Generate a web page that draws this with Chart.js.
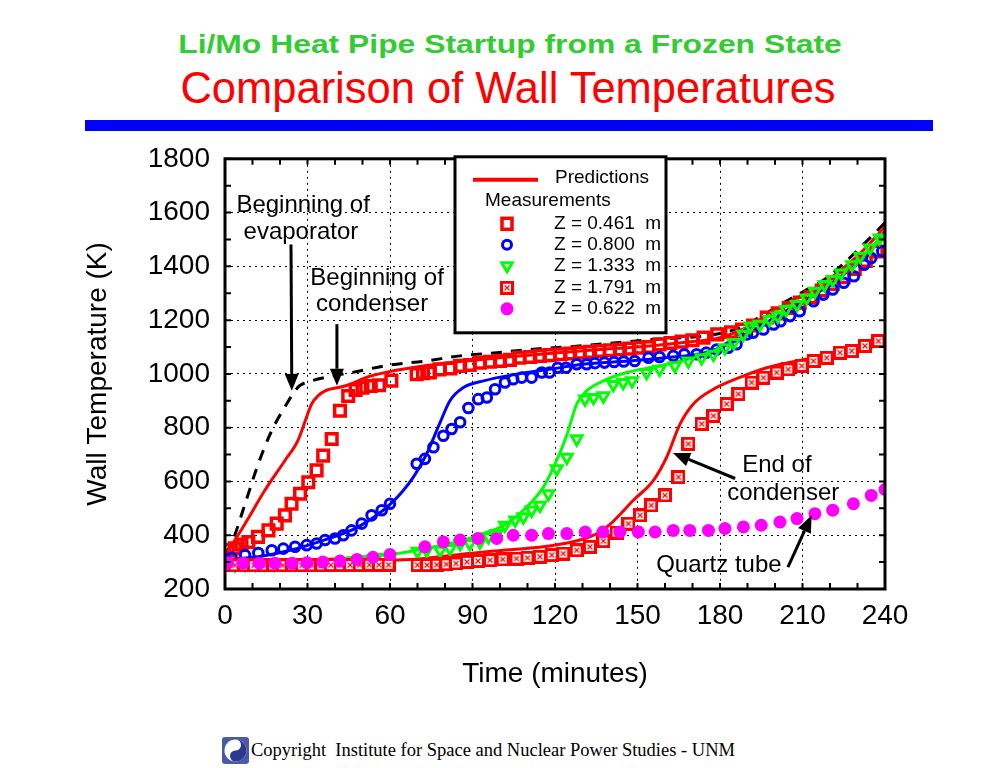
<!DOCTYPE html>
<html>
<head>
<meta charset="utf-8">
<script src="https://cdn.jsdelivr.net/npm/chart.js"></script>
<style>
  body { margin: 0; background: #fff; }
  #page { position: relative; width: 1008px; height: 768px; overflow: hidden; background: #fff; }
  .t1 { position: absolute; left: 0; width: 1020px; top: 31px; text-align: center;
        font: bold 26px/26px "Liberation Sans", Arial, sans-serif; color: #33cc33;
        transform: scaleX(1.225); transform-origin: 510px 0; white-space: nowrap; }
  .t2 { position: absolute; left: 0; width: 1016px; top: 67px; text-align: center;
        font: 43.5px/43.5px "Liberation Sans", Arial, sans-serif; color: #ff0000; white-space: nowrap; }
  .bar { position: absolute; left: 85px; top: 120px; width: 848px; height: 11px; background: #0000ff; }
  #wrap { position: absolute; left: 0; top: 127px; width: 1008px; height: 583px; }
  .foot { position: absolute; left: 222px; top: 737px; display: flex; align-items: center;
          font: 18.5px "Liberation Serif", "Times New Roman", serif; color: #000; white-space: pre; }
  .foot span { margin-left: 2px; }
</style>
</head>
<body>
<div id="page">
  <div class="t1">Li/Mo Heat Pipe Startup from a Frozen State</div>
  <div class="t2">Comparison of Wall Temperatures</div>
  <div class="bar"></div>
  <div id="wrap"><canvas id="c"></canvas></div>
  <div class="foot">
    <svg width="27" height="27" viewBox="0 0 27 27">
      <rect width="27" height="27" rx="3" fill="#4a5aa8"/>
      <circle cx="13.5" cy="13.5" r="11" fill="#fff"/>
      <path d="M13.5 2.5 a11 11 0 0 1 0 22 a5.5 5.5 0 0 1 0 -11 a5.5 5.5 0 0 0 0 -11z" fill="#2b3990"/>
    </svg><span>Copyright  Institute for Space and Nuclear Power Studies - UNM</span>
  </div>
</div>
<script>
// axis ticks
const xTicks = [0, 30, 60, 90, 120, 150, 180, 210, 240];
const yTicks = [200, 400, 600, 800, 1000, 1200, 1400, 1600, 1800];

// measurements: time (min) and wall temperature (K)
const z461T = [1, 3.6, 6, 8.5, 12, 15.8, 18.8, 21.8, 24.2, 27.3, 30.3, 33.3, 35.7, 38.8, 41.8, 44.8, 47.5, 50, 53, 56, 60.5, 69.7, 72, 74.5, 78, 82, 85.5, 89, 92.7, 96.4, 100, 103.6, 107, 111, 114.5, 118, 122, 125.5, 129, 132.7, 136, 140, 143.6, 147, 150.5, 154, 158, 162, 166, 170, 174, 179, 184, 188, 192, 197, 201, 205, 209, 213, 217, 221, 225, 229, 233, 237];
const z461K = [345, 351, 365, 375, 394, 418, 443, 474, 517, 554, 597, 641, 696, 758, 863, 918, 940, 949, 955, 958, 975, 999, 1003, 1005, 1017, 1020, 1030, 1033, 1042, 1045, 1048, 1052, 1060, 1063, 1067, 1070, 1073, 1076, 1079, 1082, 1085, 1088, 1091, 1094, 1097, 1100, 1110, 1115, 1120, 1125, 1135, 1147, 1155, 1165, 1180, 1210, 1225, 1245, 1265, 1285, 1310, 1335, 1360, 1390, 1420, 1455];

const z800T = [0, 2.4, 7.3, 12.1, 17, 21.2, 25.5, 29.7, 33.3, 36.4, 40, 43, 46, 49.7, 53.3, 57, 60, 69.7, 72.7, 75.8, 79.4, 82.4, 85.5, 88.5, 92.1, 95.2, 98.2, 101.8, 104.8, 107.9, 111.5, 115.2, 118, 121, 124, 127.9, 131.5, 134.5, 138, 141.5, 145, 149, 154, 158, 163, 167, 171.5, 175, 178.8, 183, 186, 189.8, 192, 195.8, 199.5, 202, 205.5, 209, 214, 217.6, 221, 225, 228.7, 232.4, 235, 239];
const z800K = [310, 316, 326, 334, 344, 350, 357, 363, 369, 382, 388, 400, 418, 443, 474, 493, 517, 666, 684, 727, 770, 795, 820, 873, 906, 912, 943, 968, 980, 986, 986, 1005, 1005, 1023, 1023, 1036, 1036, 1040, 1042, 1044, 1046, 1048, 1060, 1063, 1067, 1073, 1073, 1079, 1091, 1097, 1110, 1147, 1153, 1165, 1184, 1196, 1215, 1233, 1270, 1295, 1314, 1339, 1363, 1406, 1431, 1456];

const z1333T = [0, 3.6, 7.3, 11, 14.5, 18, 22, 25.5, 29, 33, 36.4, 40, 43.6, 47, 50.5, 54, 57.5, 70, 73.3, 78.2, 81.8, 85.5, 89, 92.7, 95.8, 98.8, 101.8, 105.5, 108.5, 111.5, 114.5, 117.6, 120.6, 124.3, 127.9, 130.9, 134, 137.6, 141.2, 144.8, 148, 153.3, 158, 163.6, 168.5, 173.3, 177.6, 181.8, 185, 188.5, 191, 194.5, 198, 201, 204, 208, 211.5, 214.5, 218, 221, 224, 228, 231, 234.5, 238];
const z1333K = [290, 290, 292, 292, 293, 293, 294, 295, 296, 297, 298, 300, 302, 305, 308, 312, 318, 340, 344, 344, 350, 369, 369, 375, 394, 406, 437, 456, 468, 493, 511, 554, 647, 690, 758, 906, 912, 918, 960, 968, 974, 1005, 1017, 1030, 1048, 1060, 1073, 1097, 1116, 1147, 1178, 1184, 1202, 1215, 1239, 1258, 1282, 1307, 1332, 1351, 1375, 1406, 1437, 1468, 1505];

const z1791T = [0, 3.5, 7, 10.5, 14, 17.5, 21, 24.5, 28, 31.5, 35, 38.5, 42, 45.5, 49, 52.5, 56, 59.5, 70, 73.5, 77, 80.5, 84, 88, 92, 96.4, 101, 106, 110, 114.5, 118.8, 123, 127.9, 132.7, 137.6, 142.4, 146.7, 150.9, 155, 160, 164.9, 168.5, 173.3, 177.6, 182.4, 186.7, 191.5, 195.8, 200.6, 204.8, 209.7, 214, 218.8, 223.6, 227.9, 232.7, 237.6];
const z1791K = [288, 288, 288, 288, 288, 288, 288, 288, 288, 288, 288, 289, 289, 289, 289, 290, 290, 290, 289, 289, 290, 292, 295, 301, 304, 307, 310, 313, 316, 320, 326, 332, 344, 357, 378, 410, 443, 474, 511, 548, 616, 740, 814, 844, 888, 925, 968, 986, 1005, 1017, 1030, 1048, 1060, 1079, 1085, 1104, 1122];

const z622T = [1, 6.5, 12.5, 18.2, 24.4, 29.8, 35.6, 41.8, 48, 53.8, 60, 72.7, 79.4, 85.5, 92, 98.8, 104.8, 111.5, 117.6, 124.3, 131, 137.4, 143.6, 150.3, 156.4, 163, 169, 175.8, 181.8, 188.5, 195, 201.8, 208, 214.5, 221, 228.5, 235, 240];
const z622K = [298, 296, 296, 296, 296, 298, 300, 304, 310, 318, 328, 357, 375, 382, 388, 388, 400, 400, 406, 406, 412, 412, 412, 412, 412, 418, 418, 418, 425, 431, 437, 449, 462, 480, 493, 517, 548, 570];

// predictions
const evapT = [0, 2.4, 7.3, 12.1, 17, 22.4, 25, 27, 31.5, 38, 46, 60, 73, 85.5, 98.8, 111, 124, 137.5, 155.6, 173.8, 182, 187, 195, 204, 211, 218.8, 226, 233, 240];
const evapK = [330, 370, 517, 666, 789, 888, 930, 955, 974, 990, 1005, 1033, 1048, 1067, 1079, 1091, 1100, 1112, 1128, 1141, 1155, 1171, 1215, 1270, 1310, 1357, 1420, 1490, 1562];

const p461T = [0, 1.2, 7.3, 14.5, 21.8, 26.5, 29, 31.5, 34, 36.4, 43.6, 53.3, 67.9, 80, 90, 105, 120, 135, 150, 165, 180, 188, 196, 204, 212, 220, 228, 234, 240];
const p461K = [330, 345, 443, 567, 678, 752, 820, 888, 920, 937, 955, 993, 1023, 1040, 1050, 1065, 1078, 1090, 1100, 1115, 1135, 1165, 1210, 1260, 1305, 1355, 1420, 1480, 1548];

const p800T = [0, 12, 24, 36, 48.5, 60.6, 68.5, 73.3, 78, 81.8, 86.7, 94, 106, 118, 130, 147, 160, 175, 186, 195, 205, 215, 225, 233, 240];
const p800K = [310, 320, 345, 382, 431, 520, 616, 702, 814, 900, 949, 974, 999, 1017, 1036, 1048, 1060, 1080, 1125, 1180, 1240, 1300, 1370, 1440, 1530];

const p1333T = [0, 30, 45, 60, 69.7, 81.8, 94, 102.4, 109.7, 115.8, 120.6, 124.4, 127.9, 131.5, 137.6, 146, 158, 170, 180, 187, 195, 205, 215, 225, 233, 240];
const p1333K = [295, 305, 315, 328, 344, 369, 406, 443, 505, 579, 678, 776, 888, 937, 974, 1005, 1030, 1060, 1097, 1153, 1200, 1260, 1320, 1385, 1450, 1522];

const p1791T = [0, 30, 45, 60, 70, 82, 94, 106, 118, 130, 136, 141, 148.5, 155.8, 160.6, 165.5, 170.3, 177.6, 187, 197, 214, 228, 240];
const p1791K = [292, 293, 295, 307, 312, 325, 338, 348, 360, 385, 410, 450, 530, 604, 690, 814, 888, 943, 986, 1023, 1060, 1085, 1110];

const xy = (ts, ks) => ts.map((t, i) => ({ x: t, y: ks[i] }));

const RED = '#ff0000', BLUE = '#0000ff', GREEN = '#00ff00', MAG = '#ff00ff';
const FONT = '"Liberation Sans", Arial, sans-serif';

// red square with white centre and a small cross
function crossedSquare() {
  const c = document.createElement('canvas');
  c.width = 14; c.height = 14;
  const g = c.getContext('2d');
  g.fillStyle = RED; g.fillRect(0, 0, 14, 14);
  g.fillStyle = '#fff'; g.fillRect(3, 3, 8, 8);
  g.strokeStyle = RED; g.lineWidth = 1.2;
  g.beginPath(); g.moveTo(4.5, 4.5); g.lineTo(9.5, 9.5); g.moveTo(9.5, 4.5); g.lineTo(4.5, 9.5); g.stroke();
  return c;
}
const crossImg = crossedSquare();

function arrow(ctx, x1, y1, x2, y2) {
  const ang = Math.atan2(y2 - y1, x2 - x1);
  const hl = 17, hw = 7;
  const bx = x2 - Math.cos(ang) * hl, by = y2 - Math.sin(ang) * hl;
  ctx.beginPath(); ctx.moveTo(x1, y1); ctx.lineTo(bx, by); ctx.stroke();
  ctx.beginPath();
  ctx.moveTo(x2, y2);
  ctx.lineTo(bx + Math.sin(ang) * hw, by - Math.cos(ang) * hw);
  ctx.lineTo(bx - Math.sin(ang) * hw, by + Math.cos(ang) * hw);
  ctx.closePath(); ctx.fill();
}

const notes = [
  { text: 'Beginning of', t: 28.4, k: 1626 },
  { text: 'evaporator', t: 27.6, k: 1526 },
  { text: 'Beginning of', t: 55.3, k: 1356 },
  { text: 'condenser', t: 53.5, k: 1259 },
  { text: 'End of', t: 200.7, k: 659 },
  { text: 'condenser', t: 203, k: 556 },
  { text: 'Quartz tube', t: 179.6, k: 289 }
];
const arrows = [
  [24, 1481, 24.3, 937],
  [40.7, 1185, 40.7, 956],
  [185.5, 611, 162.9, 706],
  [204.7, 281, 213.3, 474]
];

const decor = {
  id: 'decor',
  afterDatasetsDraw(chart) {
    const { ctx, chartArea: a, scales: { x, y } } = chart;
    ctx.save();
    ctx.strokeStyle = '#000';
    ctx.lineWidth = 2;
    ctx.beginPath();
    for (let t = 0; t <= 240; t += 10) {
      const px = x.getPixelForValue(t);
      ctx.moveTo(px, a.bottom); ctx.lineTo(px, a.bottom - 6);
      ctx.moveTo(px, a.top); ctx.lineTo(px, a.top + 6);
    }
    for (let k = 200; k <= 1800; k += 100) {
      const py = y.getPixelForValue(k);
      ctx.moveTo(a.left, py); ctx.lineTo(a.left + 6, py);
      ctx.moveTo(a.right, py); ctx.lineTo(a.right - 6, py);
    }
    ctx.stroke();
    ctx.lineWidth = 3;
    ctx.strokeRect(a.left, a.top, a.right - a.left, a.bottom - a.top);
    ctx.restore();
  },
  afterDraw(chart) {
    const { ctx, chartArea: a, scales: { x, y } } = chart;
    ctx.save();
    // annotations
    ctx.fillStyle = '#000'; ctx.strokeStyle = '#000'; ctx.lineWidth = 3;
    arrows.forEach(([t1, k1, t2, k2]) =>
      arrow(ctx, x.getPixelForValue(t1), y.getPixelForValue(k1), x.getPixelForValue(t2), y.getPixelForValue(k2)));
    ctx.font = '24px ' + FONT;
    ctx.textAlign = 'center'; ctx.textBaseline = 'middle';
    notes.forEach(n => ctx.fillText(n.text, x.getPixelForValue(n.t), y.getPixelForValue(n.k)));

    // legend box
    const L = a.left + 230, T = a.top - 2;
    ctx.fillStyle = '#fff'; ctx.fillRect(L, T, 211, 176);
    ctx.lineWidth = 3; ctx.strokeStyle = '#000'; ctx.strokeRect(L, T, 211, 176);
    ctx.strokeStyle = RED; ctx.lineWidth = 4;
    ctx.beginPath(); ctx.moveTo(L + 18, T + 23); ctx.lineTo(L + 83, T + 23); ctx.stroke();
    ctx.fillStyle = '#000'; ctx.font = '19px ' + FONT;
    ctx.textAlign = 'left'; ctx.textBaseline = 'middle';
    ctx.fillText('Predictions', L + 100, T + 21);
    ctx.fillText('Measurements', L + 30, T + 44);
    const labels = ['Z = 0.461  m', 'Z = 0.800  m', 'Z = 1.333  m', 'Z = 1.791  m', 'Z = 0.622  m'];
    const rows = [67, 88, 109, 131, 152];
    const mx = L + 52;
    rows.forEach((r, i) => {
      const cy = T + r;
      ctx.fillStyle = '#000';
      ctx.fillText(labels[i], L + 99, cy);
      if (i === 0) { ctx.strokeStyle = RED; ctx.lineWidth = 3.5; ctx.strokeRect(mx - 5, cy - 5.5, 10, 11); }
      if (i === 1) { ctx.strokeStyle = BLUE; ctx.lineWidth = 3; ctx.beginPath(); ctx.arc(mx, cy, 4.5, 0, Math.PI * 2); ctx.stroke(); }
      if (i === 2) {
        ctx.strokeStyle = GREEN; ctx.lineWidth = 3; ctx.beginPath();
        ctx.moveTo(mx, cy + 6); ctx.lineTo(mx - 5.2, cy - 3); ctx.lineTo(mx + 5.2, cy - 3); ctx.closePath(); ctx.stroke();
      }
      if (i === 3) ctx.drawImage(crossImg, mx - 7, cy - 7);
      if (i === 4) { ctx.fillStyle = MAG; ctx.beginPath(); ctx.arc(mx, cy, 6.5, 0, Math.PI * 2); ctx.fill(); }
    });
    ctx.restore();
  }
};

const lineDs = (data, color, order, dash) => ({
  data, showLine: true, borderColor: color, borderWidth: 3, pointRadius: 0,
  cubicInterpolationMode: 'monotone', tension: 0.3, borderDash: dash || [], order
});

new Chart(document.getElementById('c'), {
  type: 'scatter',
  data: {
    datasets: [
      { data: xy(z622T, z622K), pointStyle: 'circle', pointRadius: 6.5, backgroundColor: MAG, borderWidth: 0, order: 0 },
      { data: xy(z1791T, z1791K), pointStyle: crossImg, order: 1 },
      { data: xy(z1333T, z1333K), pointStyle: 'triangle', rotation: 180, pointRadius: 6.2, borderColor: GREEN, borderWidth: 3, backgroundColor: 'rgba(0,0,0,0)', order: 2 },
      { data: xy(z800T, z800K), pointStyle: 'circle', pointRadius: 4.8, borderColor: BLUE, borderWidth: 3, backgroundColor: 'rgba(0,0,0,0)', order: 3 },
      { data: xy(z461T, z461K), pointStyle: 'rect', pointRadius: 7.5, borderColor: RED, borderWidth: 3.5, backgroundColor: 'rgba(0,0,0,0)', order: 4 },
      lineDs(xy(p1791T, p1791K), RED, 5),
      lineDs(xy(p1333T, p1333K), GREEN, 6),
      lineDs(xy(p800T, p800K), BLUE, 7),
      lineDs(xy(p461T, p461K), RED, 8),
      lineDs(xy(evapT, evapK), '#000', 9, [11, 9])
    ]
  },
  options: {
    responsive: true,
    maintainAspectRatio: false,
    animation: false,
    events: [],
    layout: { padding: { left: 0, right: 123, top: 0, bottom: 0 } },
    plugins: { legend: { display: false }, tooltip: { enabled: false } },
    scales: {
      x: {
        type: 'linear', min: 0, max: 240,
        afterBuildTicks: s => { s.ticks = xTicks.map(v => ({ value: v })); },
        afterFit: s => { s.height = 121; },
        ticks: { color: '#000', font: { family: FONT, size: 28 }, padding: 10, maxRotation: 0, autoSkip: false, callback: v => String(v) },
        grid: { color: '#000', lineWidth: 1, drawTicks: false },
        border: { display: false, dash: [2, 4] },
        title: { display: true, text: 'Time (minutes)', color: '#000', font: { family: FONT, size: 28 }, padding: { top: 0, bottom: 19 } }
      },
      y: {
        type: 'linear', min: 200, max: 1800,
        afterBuildTicks: s => { s.ticks = yTicks.map(v => ({ value: v })); },
        afterFit: s => { s.width = 225; },
        ticks: { color: '#000', font: { family: FONT, size: 28 }, padding: 15, callback: v => String(v) },
        grid: { color: '#000', lineWidth: 1, drawTicks: false },
        border: { display: false, dash: [2, 4] },
        title: { display: true, text: 'Wall Temperature (K)', color: '#000', font: { family: FONT, size: 28 }, padding: { top: 81, bottom: 0 } }
      }
    }
  },
  plugins: [decor]
});
</script>
</body>
</html>
